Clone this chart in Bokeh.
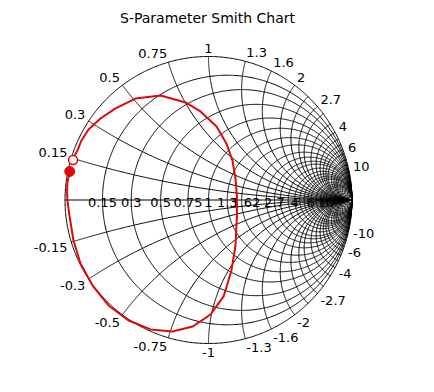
import numpy as np
from bokeh.plotting import figure
from bokeh.models import Range1d
from bokeh.core.properties import value
from bokeh.embed import file_html
from bokeh.resources import INLINE

# ---- data ----
title_text = "S-Parameter Smith Chart"
label_values = [0.15, 0.3, 0.5, 0.75, 1, 1.3, 1.6, 2, 2.7, 4, 6, 10]
label_texts = ["0.15", "0.3", "0.5", "0.75", "1", "1.3", "1.6", "2", "2.7", "4", "6", "10"]
extra_grid_values = [2.35, 3.0, 3.5, 4.5, 5, 5.5, 7, 8, 9, 12, 15, 20, 30, 50]

# S11 trace as reflection coefficient (real, imag)
gamma_re = [-0.967, -0.983, -0.986, -0.983, -0.969, -0.941, -0.892, -0.808, -0.697, -0.557,
            -0.404, -0.251, -0.111, 0.014, 0.105, 0.160, 0.188, 0.198, 0.198, 0.188,
            0.167, 0.125, 0.056, -0.056, -0.160, -0.334, -0.509, -0.648, -0.753, -0.836,
            -0.885, -0.913, -0.941, -0.944]
gamma_im = [0.199, 0.122, 0.052, -0.003, -0.108, -0.282, -0.443, -0.596, -0.735, -0.840,
            -0.902, -0.916, -0.882, -0.798, -0.672, -0.491, -0.317, -0.108, 0.031, 0.150,
            0.275, 0.394, 0.512, 0.617, 0.680, 0.728, 0.707, 0.638, 0.568, 0.491,
            0.415, 0.345, 0.296, 0.279]

# ---- layout ----
W, H = 430, 388
R = 143.5
CX, CY = 208, 199.5
PX = 1.0 / R

p = figure(width=W, height=H, output_backend="svg", toolbar_location=None,
           x_range=Range1d(-CX / R, (W - CX) / R),
           y_range=Range1d(-(H - CY) / R, CY / R),
           min_border=0, outline_line_color=None, background_fill_color="white")
p.xaxis.visible = False
p.yaxis.visible = False
p.grid.visible = False

FONT = value("DejaVu Sans")

grid_vals = sorted(label_values + extra_grid_values)

# real-axis labels (drawn first so the dense grid covers them)
for v, t in zip(label_values, label_texts):
    g = (v - 1) / (v + 1)
    p.text(x=[g], y=[-2 * PX], text=[t], text_align="center", text_baseline="middle",
           text_font=FONT, text_font_size="13px", text_color="black")

xs, ys = [], []
# resistance circles
tt = np.linspace(0, 2 * np.pi, 721)
for r in grid_vals:
    c = r / (1 + r)
    rad = 1 / (1 + r)
    xs.append(list(c + rad * np.cos(tt)))
    ys.append(list(rad * np.sin(tt)))
# outer circle
xs.append(list(np.cos(tt)))
ys.append(list(np.sin(tt)))
# reactance arcs
rr = np.concatenate([[0.0], np.logspace(-3, 4, 600)])
for x in grid_vals:
    for s in (1, -1):
        z = rr + 1j * s * x
        g = (z - 1) / (z + 1)
        xs.append(list(g.real))
        ys.append(list(g.imag))
p.multi_line(xs=xs, ys=ys, line_color="black", line_width=1)
p.line(x=[-1, 1], y=[0, 0], line_color="black", line_width=1)

# reactance labels round the rim
OFF = 4 * PX
for v, t in zip(label_values, label_texts):
    for s in (1, -1):
        z = 1j * s * v
        g = (z - 1) / (z + 1)
        ang = np.angle(g)
        ca, sa = np.cos(ang), np.sin(ang)
        align = "left" if ca > 0.2 else ("right" if ca < -0.2 else "center")
        base = "bottom" if sa > 0 else "top"
        txt = t if s > 0 else "-" + t
        p.text(x=[(1 + OFF) * ca], y=[(1 + OFF) * sa], text=[txt], text_align=align,
               text_baseline=base, text_font=FONT, text_font_size="13px", text_color="black")

# title
p.text(x=[-1 * PX], y=[(CY - 17.5) * PX], text=[title_text], text_align="center",
       text_baseline="middle", text_font=FONT, text_font_size="14px", text_color="black")

# S11 trace
p.line(x=gamma_re, y=gamma_im, line_color="#dd0a0a", line_width=2)
p.scatter(x=[gamma_re[0]], y=[gamma_im[0]], size=10, fill_color="#dd0a0a", line_color="#dd0a0a")
p.scatter(x=[gamma_re[-1]], y=[gamma_im[-1]], size=9, fill_color="white", line_color="#dd0a0a",
          line_width=1.5)

open("out.html", "w").write(file_html(p, INLINE))
